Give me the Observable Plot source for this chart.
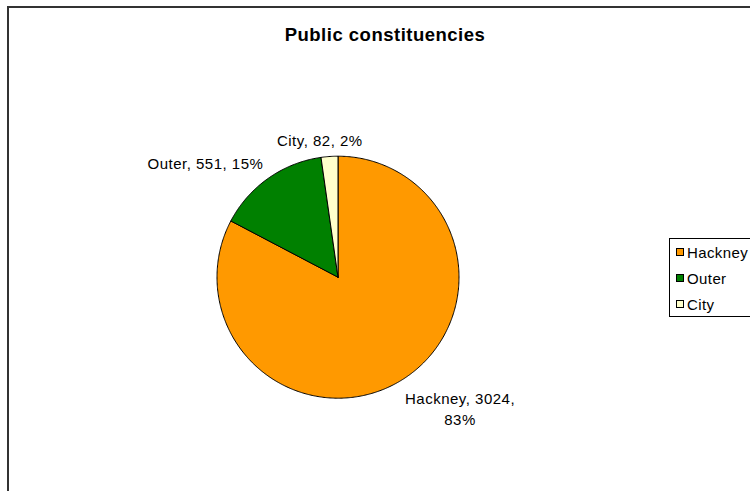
<!DOCTYPE html>
<html><head><meta charset="utf-8">
<script src="https://cdn.jsdelivr.net/npm/d3@7"></script>
<script src="https://cdn.jsdelivr.net/npm/@observablehq/plot@0.6"></script>
<style>
html,body{margin:0;padding:0;background:#fff;overflow:hidden;}
#wrap{position:relative;width:750px;height:491px;overflow:hidden;font-family:"Liberation Sans",Arial,sans-serif;color:#000;}
#frame{position:absolute;left:7px;top:6px;width:800px;height:600px;border:2px solid #333;box-sizing:border-box;}
#title{position:absolute;left:0;width:770px;top:24px;text-align:center;font-weight:bold;font-size:18.5px;letter-spacing:0.5px;}
#chart{position:absolute;left:0;top:0;}
#chart svg{font-family:"Liberation Sans",Arial,sans-serif;}
#chart text{letter-spacing:0.5px;}
#legend{position:absolute;left:669px;top:238px;width:120px;height:79px;border:1px solid #000;box-sizing:border-box;background:#fff;font-size:15px;letter-spacing:0.4px;}
.row{height:26px;display:flex;align-items:center;}
.sw{width:8px;height:8px;border:1px solid #000;margin-left:6px;margin-right:3px;box-sizing:border-box;}
</style></head>
<body>
<div id="wrap">
  <div id="frame"></div>
  <div id="chart"></div>
  <div id="title">Public constituencies</div>
  <div id="legend"></div>
</div>
<script>
const categories = ["Hackney", "Outer", "City"];
const values = [3024, 551, 82];
const percents = [83, 15, 2];
const colors = ["#FF9900", "#008000", "#FFFFCC"];

const W = 750, H = 491;
const mL = 216.5, mR = 291.5, mT = 155.7, mB = 93.3;
const ppu = (W - mL - mR) / 2;
const labelFont = 15, labelLS = 0.5, lineH = 1.4;

const arcs = d3.pie().sort(null)(values);
const slices = [];
arcs.forEach((a, i) => {
  const cat = categories[i];
  slices.push({cat, x: 0, y: 0});
  const n = Math.max(2, Math.ceil((a.endAngle - a.startAngle) / 0.01));
  for (let k = 0; k <= n; k++) {
    const t = a.startAngle + (a.endAngle - a.startAngle) * k / n;
    slices.push({cat, x: Math.sin(t), y: Math.cos(t)});
  }
  slices.push({cat, x: 0, y: 0});
});

// label layout
const ctx = document.createElement("canvas").getContext("2d");
ctx.font = `${labelFont}px "Liberation Sans", Arial, sans-serif`;
const tw = s => ctx.measureText(s).width + labelLS * s.length;
const maxW = 130;
const D = 1.07;
const clamp = v => Math.max(0, Math.min(1, v));
const labels = arcs.map((a, i) => {
  let txt = `${categories[i]}, ${values[i]}, ${percents[i]}%`;
  if (tw(txt) > maxW) {
    const j = txt.lastIndexOf(", ");
    txt = txt.slice(0, j + 1) + "\n" + txt.slice(j + 2);
  }
  const lines = txt.split("\n");
  const w = Math.max(...lines.map(tw));
  const h = (lines.length - 1) * labelFont * lineH + labelFont * 1.2;
  const m = (a.startAngle + a.endAngle) / 2;
  const s = Math.sin(m), c = Math.cos(m);
  const hx = clamp((1 - 3 * s) / 2), vy = clamp((1 + 3 * c) / 2);
  return {
    text: txt,
    x: D * s + (0.5 - hx) * w / ppu,
    y: D * c - (0.5 - vy) * h / ppu
  };
});

const chart = Plot.plot({
  width: W, height: H,
  marginLeft: mL, marginRight: mR, marginTop: mT, marginBottom: mB,
  x: {domain: [-1, 1], axis: null},
  y: {domain: [-1, 1], axis: null},
  color: {domain: categories, range: colors},
  marks: [
    Plot.line(slices, {x: "x", y: "y", z: "cat", fill: "cat", stroke: "#000", strokeWidth: 1, curve: "linear", strokeLinejoin: "round"}),
    Plot.text(labels, {x: "x", y: "y", text: "text", textAnchor: "middle", lineAnchor: "middle", lineHeight: lineH, fontSize: labelFont, fill: "#000"})
  ]
});
document.getElementById("chart").appendChild(chart);

const leg = document.getElementById("legend");
categories.forEach((c, i) => {
  const r = document.createElement("div");
  r.className = "row";
  const sw = document.createElement("div");
  sw.className = "sw";
  sw.style.background = colors[i];
  const t = document.createElement("span");
  t.textContent = c;
  r.appendChild(sw); r.appendChild(t);
  leg.appendChild(r);
});
</script>
</body></html>
